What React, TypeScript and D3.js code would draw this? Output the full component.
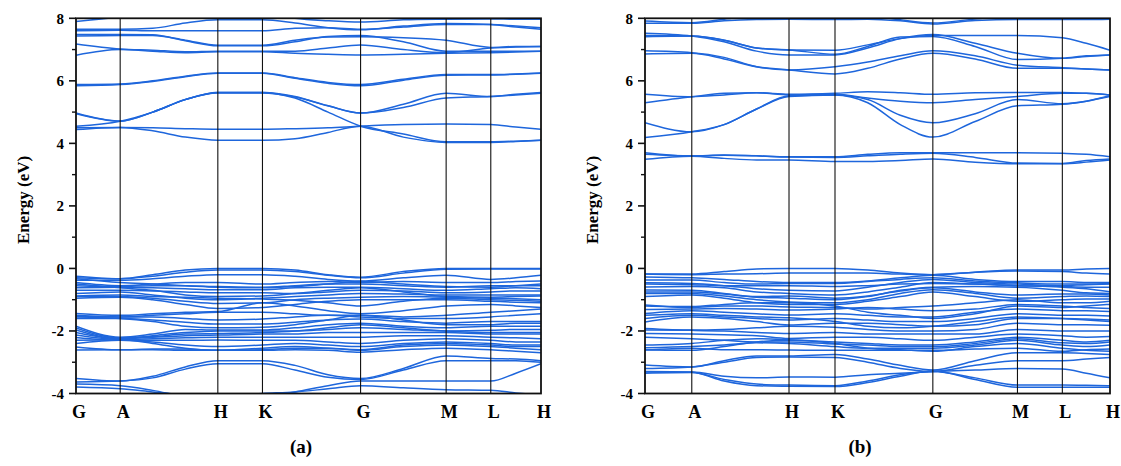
import React from 'react';
import * as d3 from 'd3';

// k-path labels and positions (fraction of path length)
const kLabels = ['G', 'A', 'H', 'K', 'G', 'M', 'L', 'H'];
const kTicksA = [0, 0.095, 0.305, 0.401, 0.612, 0.796, 0.892, 1.0];
const kTicksB = [0, 0.1006, 0.3097, 0.4086, 0.619, 0.801, 0.8975, 1.0];

// sample points along the path: G, A, A-H x2, H, K, K-G x2, G, G-M, M, L, L-H, H
const kSampleA = [0, 0.095, 0.165, 0.235, 0.305, 0.401, 0.471, 0.542, 0.612, 0.704, 0.796, 0.892, 0.946, 1.0];
const kSampleB = [0, 0.1006, 0.17, 0.24, 0.3097, 0.4086, 0.479, 0.549, 0.619, 0.71, 0.801, 0.8975, 0.949, 1.0];

const yTicks = [8, 6, 4, 2, 0, -2, -4];
const yMinor = [7, 5, 3, 1, -1, -3];

// panel (a) bands, energies in eV at kSampleA
const bandsA = [
  // conduction
  [4.44, 4.51, 4.4, 4.2, 4.1, 4.1, 4.15, 4.35, 4.55, 4.2, 4.03, 4.03, 4.06, 4.1],
  [4.5, 4.51, 4.5, 4.47, 4.45, 4.45, 4.47, 4.5, 4.55, 4.6, 4.62, 4.6, 4.52, 4.45],
  [4.55, 4.71, 5.0, 5.4, 5.63, 5.63, 5.45, 5.0, 4.55, 4.3, 4.05, 4.05, 4.07, 4.1],
  [4.97, 4.71, 5.0, 5.4, 5.63, 5.63, 5.5, 5.2, 4.97, 5.25, 5.6, 5.5, 5.57, 5.63],
  [4.95, 4.71, 5.0, 5.4, 5.61, 5.61, 5.48, 5.2, 4.97, 5.15, 5.45, 5.5, 5.55, 5.6],
  [5.88, 5.9, 6.0, 6.15, 6.25, 6.25, 6.1, 5.95, 5.88, 6.05, 6.2, 6.2, 6.22, 6.25],
  [5.84, 5.88, 5.98, 6.13, 6.24, 6.24, 6.08, 5.92, 5.84, 6.02, 6.18, 6.19, 6.21, 6.24],
  [6.82, 7.0, 6.95, 6.9, 6.93, 6.93, 6.88, 6.85, 6.83, 6.85, 6.88, 6.9, 6.92, 6.95],
  [7.18, 7.02, 6.98, 6.93, 6.95, 6.95, 6.95, 7.05, 7.15, 7.0, 6.9, 7.05, 7.08, 7.1],
  [7.43, 7.45, 7.45, 7.3, 7.14, 7.14, 7.3, 7.4, 7.41, 7.38, 7.3, 7.07, 7.1, 7.1],
  [7.48, 7.48, 7.47, 7.28, 7.12, 7.12, 7.25, 7.42, 7.45, 7.25, 6.95, 6.95, 6.95, 6.95],
  [7.65, 7.65, 7.68, 7.85, 7.95, 7.95, 7.85, 7.7, 7.63, 7.75, 7.83, 7.8, 7.72, 7.65],
  [7.6, 7.62, 7.6, 7.6, 7.6, 7.6, 7.68, 7.7, 7.65, 7.72, 7.8, 7.8, 7.75, 7.7],
  [7.9, 8.05, 8.2, 8.3, 8.3, 8.2, 8.0, 7.92, 7.88, 7.95, 7.97, 7.98, 7.97, 7.97],
  // valence
  [-0.25, -0.33, -0.2, -0.05, 0.0, 0.0, -0.05, -0.2, -0.28, -0.1, 0.0, 0.0, 0.0, 0.0],
  [-0.3, -0.33, -0.25, -0.12, -0.05, -0.05, -0.1, -0.22, -0.3, -0.15, -0.03, -0.02, -0.02, -0.02],
  [-0.38, -0.38, -0.33, -0.25, -0.2, -0.2, -0.25, -0.35, -0.4, -0.3, -0.22, -0.35, -0.3, -0.22],
  [-0.33, -0.45, -0.5, -0.55, -0.6, -0.62, -0.58, -0.5, -0.42, -0.5, -0.58, -0.6, -0.55, -0.5],
  [-0.45, -0.55, -0.5, -0.45, -0.45, -0.5, -0.45, -0.42, -0.45, -0.42, -0.45, -0.45, -0.42, -0.4],
  [-0.55, -0.58, -0.55, -0.55, -0.58, -0.6, -0.55, -0.5, -0.5, -0.55, -0.6, -0.55, -0.55, -0.55],
  [-0.5, -0.62, -0.7, -0.85, -0.9, -0.88, -0.8, -0.7, -0.62, -0.75, -0.9, -0.92, -0.9, -0.88],
  [-0.62, -0.6, -0.62, -0.65, -0.68, -0.68, -0.62, -0.6, -0.6, -0.65, -0.7, -0.65, -0.62, -0.65],
  [-0.7, -0.7, -0.72, -0.75, -0.78, -0.78, -0.8, -0.75, -0.7, -0.72, -0.78, -0.75, -0.72, -0.72],
  [-0.8, -0.75, -0.85, -0.95, -1.0, -0.95, -0.9, -0.85, -0.8, -0.82, -0.85, -0.85, -0.85, -0.85],
  [-0.88, -0.85, -0.9, -0.92, -0.95, -0.98, -1.02, -1.1, -1.2, -1.05, -0.95, -1.0, -1.02, -1.05],
  [-0.9, -0.9, -0.95, -1.05, -1.12, -1.1, -1.0, -0.95, -0.92, -0.9, -0.92, -0.95, -0.97, -1.0],
  [-0.95, -0.92, -1.0, -1.15, -1.28, -1.25, -1.15, -1.05, -1.0, -1.0, -1.0, -1.05, -1.08, -1.1],
  [-1.44, -1.5, -1.45, -1.4, -1.38, -1.1, -1.2, -1.35, -1.45, -1.35, -1.2, -1.15, -1.2, -1.25],
  [-1.5, -1.55, -1.5, -1.45, -1.4, -1.4, -1.45, -1.5, -1.5, -1.55, -1.5, -1.4, -1.35, -1.3],
  [-1.53, -1.55, -1.55, -1.6, -1.65, -1.62, -1.55, -1.5, -1.55, -1.6, -1.6, -1.55, -1.5, -1.45],
  [-1.55, -1.6, -1.7, -1.85, -1.9, -1.88, -1.8, -1.65, -1.5, -1.65, -1.8, -1.8, -1.75, -1.75],
  [-1.6, -1.6, -1.65, -1.72, -1.78, -1.78, -1.72, -1.65, -1.62, -1.7, -1.75, -1.7, -1.7, -1.7],
  [-1.85, -2.2, -2.1, -1.95, -1.97, -1.97, -1.9, -1.8, -1.75, -1.85, -1.9, -1.85, -1.85, -1.85],
  [-1.9, -2.22, -2.18, -2.1, -2.08, -2.05, -2.0, -1.9, -1.8, -1.9, -2.0, -2.05, -2.05, -2.05],
  [-1.97, -2.25, -2.15, -2.05, -2.0, -2.0, -2.0, -1.95, -1.9, -1.95, -2.0, -1.98, -1.95, -1.95],
  [-2.05, -2.25, -2.2, -2.15, -2.13, -2.1, -2.1, -2.05, -2.05, -2.05, -2.05, -2.1, -2.1, -2.1],
  [-2.13, -2.27, -2.25, -2.22, -2.2, -2.2, -2.2, -2.2, -2.2, -2.15, -2.15, -2.2, -2.22, -2.25],
  [-2.21, -2.3, -2.3, -2.3, -2.29, -2.3, -2.3, -2.35, -2.4, -2.3, -2.25, -2.3, -2.35, -2.35],
  [-2.3, -2.28, -2.4, -2.55, -2.62, -2.55, -2.5, -2.55, -2.6, -2.45, -2.4, -2.45, -2.5, -2.5],
  [-2.4, -2.3, -2.35, -2.45, -2.5, -2.45, -2.4, -2.45, -2.5, -2.4, -2.35, -2.4, -2.45, -2.45],
  [-2.51, -2.6, -2.58, -2.58, -2.62, -2.6, -2.55, -2.55, -2.62, -2.5, -2.45, -2.5, -2.55, -2.6],
  [-2.61, -2.6, -2.6, -2.62, -2.62, -2.62, -2.6, -2.62, -2.68, -2.6, -2.55, -2.6, -2.65, -2.7],
  [-3.52, -3.6, -3.45, -3.15, -2.95, -2.95, -3.1, -3.4, -3.52, -3.2, -2.8, -2.88, -2.9, -2.95],
  [-3.63, -3.6, -3.5, -3.22, -3.05, -3.05, -3.25, -3.48, -3.55, -3.25, -2.95, -2.95, -2.95, -3.0],
  [-3.79, -3.85, -3.95, -4.05, -4.1, -4.0, -3.95, -3.85, -3.75, -3.82, -3.88, -3.9, -3.98, -4.05],
  [-3.7, -3.75, -3.9, -4.1, -4.2, -4.1, -3.95, -3.75, -3.6, -3.6, -3.6, -3.6, -3.35, -3.05],
];

// panel (b) bands, energies in eV at kSampleB
const bandsB = [
  // conduction
  [3.49, 3.59, 3.52, 3.47, 3.47, 3.42, 3.42, 3.45, 3.5, 3.4, 3.35, 3.35, 3.4, 3.47],
  [3.7, 3.59, 3.62, 3.6, 3.56, 3.55, 3.6, 3.65, 3.68, 3.55, 3.37, 3.36, 3.45, 3.5],
  [3.65, 3.6, 3.63, 3.6, 3.57, 3.57, 3.65, 3.7, 3.7, 3.7, 3.7, 3.68, 3.65, 3.57],
  [4.19, 4.37, 4.6, 5.1, 5.5, 5.55, 5.3, 4.6, 4.2, 4.7, 5.2, 5.25, 5.35, 5.5],
  [4.66, 4.37, 4.6, 5.1, 5.52, 5.55, 5.4, 4.9, 4.66, 4.95, 5.4, 5.27, 5.35, 5.52],
  [5.3, 5.49, 5.6, 5.62, 5.55, 5.57, 5.45, 5.35, 5.3, 5.4, 5.5, 5.6, 5.6, 5.55],
  [5.57, 5.49, 5.55, 5.62, 5.57, 5.6, 5.65, 5.62, 5.57, 5.62, 5.63, 5.63, 5.6, 5.55],
  [6.86, 6.88, 6.7, 6.45, 6.35, 6.22, 6.4, 6.7, 6.88, 6.7, 6.4, 6.4, 6.38, 6.35],
  [6.96, 6.9, 6.75, 6.45, 6.35, 6.45, 6.6, 6.8, 6.96, 6.8, 6.5, 6.42, 6.38, 6.35],
  [7.41, 7.43, 7.3, 7.05, 6.99, 6.98, 7.15, 7.35, 7.45, 7.45, 7.45, 7.38, 7.2, 6.98],
  [7.52, 7.43, 7.25, 6.95, 6.83, 6.83, 7.05, 7.35, 7.48, 7.2, 6.88, 6.72, 6.78, 6.83],
  [7.45, 7.43, 7.3, 7.05, 6.99, 6.85, 7.1, 7.4, 7.42, 7.1, 6.68, 6.72, 6.8, 6.83],
  [7.84, 7.84, 7.92, 7.96, 7.97, 7.96, 7.97, 7.92, 7.82, 7.93, 7.96, 7.96, 7.96, 7.97],
  [7.91, 7.86, 7.97, 8.1, 8.2, 8.2, 8.1, 7.95, 7.85, 7.98, 8.1, 8.1, 8.1, 8.1],
  // valence
  [-0.18, -0.18, -0.1, -0.02, 0.0, 0.0, -0.05, -0.15, -0.2, -0.12, -0.05, -0.05, -0.02, 0.0],
  [-0.18, -0.2, -0.18, -0.17, -0.15, -0.15, -0.15, -0.18, -0.2, -0.12, -0.08, -0.1, -0.15, -0.18],
  [-0.27, -0.3, -0.35, -0.42, -0.45, -0.45, -0.4, -0.3, -0.22, -0.35, -0.42, -0.42, -0.45, -0.45],
  [-0.37, -0.37, -0.45, -0.5, -0.48, -0.48, -0.42, -0.35, -0.3, -0.4, -0.46, -0.5, -0.5, -0.48],
  [-0.46, -0.48, -0.55, -0.65, -0.7, -0.72, -0.6, -0.45, -0.35, -0.45, -0.5, -0.55, -0.52, -0.5],
  [-0.5, -0.52, -0.55, -0.55, -0.55, -0.58, -0.55, -0.5, -0.48, -0.5, -0.55, -0.58, -0.6, -0.6],
  [-0.59, -0.58, -0.62, -0.75, -0.8, -0.85, -0.75, -0.6, -0.45, -0.5, -0.55, -0.6, -0.65, -0.75],
  [-0.69, -0.7, -0.8, -0.92, -0.95, -1.0, -0.9, -0.7, -0.6, -0.58, -0.6, -0.7, -0.78, -0.8],
  [-0.75, -0.75, -0.82, -0.9, -0.88, -0.95, -0.88, -0.72, -0.62, -0.75, -0.85, -0.82, -0.82, -0.85],
  [-0.8, -0.8, -0.88, -1.0, -1.07, -1.1, -1.0, -0.8, -0.68, -0.8, -0.95, -0.9, -0.88, -0.9],
  [-0.9, -0.85, -0.95, -1.1, -1.15, -1.15, -1.05, -0.9, -0.75, -0.9, -1.05, -1.0, -0.98, -0.98],
  [-1.17, -1.25, -1.2, -1.2, -1.23, -1.25, -1.3, -1.25, -1.2, -1.1, -1.0, -1.1, -1.1, -1.05],
  [-1.2, -1.22, -1.15, -1.1, -1.1, -1.2, -1.4, -1.5, -1.6, -1.45, -1.2, -1.25, -1.2, -1.15],
  [-1.31, -1.3, -1.28, -1.3, -1.33, -1.3, -1.25, -1.3, -1.35, -1.3, -1.15, -1.2, -1.25, -1.28],
  [-1.44, -1.35, -1.4, -1.45, -1.49, -1.45, -1.5, -1.55, -1.55, -1.4, -1.3, -1.35, -1.35, -1.38],
  [-1.5, -1.45, -1.5, -1.55, -1.58, -1.7, -1.85, -1.9, -1.85, -1.7, -1.55, -1.6, -1.65, -1.7],
  [-1.6, -1.5, -1.55, -1.6, -1.65, -1.6, -1.65, -1.7, -1.7, -1.6, -1.45, -1.5, -1.5, -1.52],
  [-1.71, -1.55, -1.6, -1.7, -1.81, -1.75, -1.75, -1.8, -1.85, -1.8, -1.6, -1.6, -1.62, -1.65],
  [-1.92, -1.97, -1.95, -1.9, -1.85, -1.88, -1.95, -2.0, -2.0, -1.95, -1.75, -1.8, -1.8, -1.82],
  [-1.97, -1.98, -2.0, -2.05, -2.08, -2.05, -2.1, -2.1, -2.1, -2.1, -1.95, -2.0, -2.0, -2.0],
  [-2.08, -2.1, -2.12, -2.15, -2.24, -2.2, -2.2, -2.25, -2.3, -2.2, -2.1, -2.15, -2.2, -2.18],
  [-2.2, -2.25, -2.3, -2.35, -2.35, -2.42, -2.45, -2.5, -2.5, -2.4, -2.25, -2.38, -2.4, -2.35],
  [-2.45, -2.4, -2.3, -2.25, -2.28, -2.35, -2.4, -2.45, -2.45, -2.35, -2.2, -2.3, -2.35, -2.3],
  [-2.54, -2.5, -2.45, -2.38, -2.4, -2.5, -2.55, -2.55, -2.55, -2.45, -2.3, -2.45, -2.5, -2.45],
  [-2.6, -2.62, -2.5, -2.35, -2.3, -2.4, -2.55, -2.6, -2.65, -2.5, -2.4, -2.55, -2.62, -2.65],
  [-2.61, -2.55, -2.6, -2.6, -2.61, -2.62, -2.62, -2.62, -2.62, -2.58, -2.55, -2.65, -2.6, -2.58],
  [-3.09, -3.15, -2.95, -2.8, -2.8, -2.75, -2.9, -3.1, -3.25, -2.95, -2.7, -2.7, -2.72, -2.75],
  [-3.2, -3.15, -3.0, -2.85, -2.83, -2.85, -3.0, -3.2, -3.3, -3.1, -2.95, -2.95, -2.9, -2.85],
  [-3.31, -3.31, -3.45, -3.5, -3.47, -3.48, -3.4, -3.35, -3.3, -3.25, -3.2, -3.22, -3.35, -3.5],
  [-3.35, -3.33, -3.55, -3.7, -3.73, -3.75, -3.6, -3.4, -3.3, -3.5, -3.73, -3.73, -3.74, -3.75],
  [-3.3, -3.32, -3.6, -3.75, -3.77, -3.78, -3.65, -3.45, -3.28, -3.55, -3.8, -3.8, -3.8, -3.8],
];

const W = 1121;
const H = 466;
const top = 18.3;
const bottom = 393.5;
const bandColor = '#1e66dc';
const font = '"Liberation Serif", "Times New Roman", serif';

const panels = [
  { id: 'a', left: 76, right: 541, ticks: kTicksA, samples: kSampleA, bands: bandsA, caption: '(a)', labelX: 23, capX: 301 },
  { id: 'b', left: 645, right: 1110, ticks: kTicksB, samples: kSampleB, bands: bandsB, caption: '(b)', labelX: 592, capX: 860 },
];

function Panel({ p }) {
  const x = d3.scaleLinear().domain([0, 1]).range([p.left, p.right]);
  const y = d3.scaleLinear().domain([-4, 8]).range([bottom, top]);
  const line = d3.line<number>()
    .x((d, i) => x(p.samples[i]))
    .y(d => y(d))
    .curve(d3.curveMonotoneX);
  const clipId = `clip-${p.id}`;
  return (
    <g>
      <defs>
        <clipPath id={clipId}>
          <rect x={p.left} y={top} width={p.right - p.left} height={bottom - top} />
        </clipPath>
      </defs>
      <g clipPath={`url(#${clipId})`}>
        {p.bands.map((b, i) => (
          <path key={i} d={line(b) || ''} fill="none" stroke={bandColor} strokeWidth={1.5} />
        ))}
      </g>
      {p.ticks.slice(1, -1).map((k, i) => (
        <line key={i} x1={x(k)} x2={x(k)} y1={top} y2={bottom} stroke="#111" strokeWidth={1.1} />
      ))}
      <rect x={p.left} y={top} width={p.right - p.left} height={bottom - top} fill="none" stroke="#111" strokeWidth={1.8} />
      {yTicks.map(t => (
        <g key={t}>
          <line x1={p.left - 7} x2={p.left} y1={y(t)} y2={y(t)} stroke="#111" strokeWidth={1.6} />
          <text x={p.left - 12} y={y(t)} dy="0.35em" textAnchor="end" fontFamily={font} fontWeight="bold" fontSize={15}>{t}</text>
        </g>
      ))}
      {yMinor.map(t => (
        <line key={t} x1={p.left - 4} x2={p.left} y1={y(t)} y2={y(t)} stroke="#111" strokeWidth={1.4} />
      ))}
      {p.ticks.map((k, i) => (
        <text key={i} x={x(k) + 3} y={418} textAnchor="middle" fontFamily={font} fontWeight="bold" fontSize={18}>{kLabels[i]}</text>
      ))}
      <text transform={`translate(${p.labelX},${(top + bottom) / 2 - 6}) rotate(-90)`} textAnchor="middle" dy="0.35em"
        fontFamily={font} fontWeight="bold" fontSize={17}>Energy (eV)</text>
      <text x={p.capX} y={453} textAnchor="middle" fontFamily={font} fontWeight="bold" fontSize={19}>{p.caption}</text>
    </g>
  );
}

export default function App() {
  return (
    <svg width={W} height={H} style={{ position: 'absolute', left: 0, top: 0, background: '#fff' }}>
      <rect width={W} height={H} fill="#fff" />
      {panels.map(p => <Panel key={p.id} p={p} />)}
    </svg>
  );
}
